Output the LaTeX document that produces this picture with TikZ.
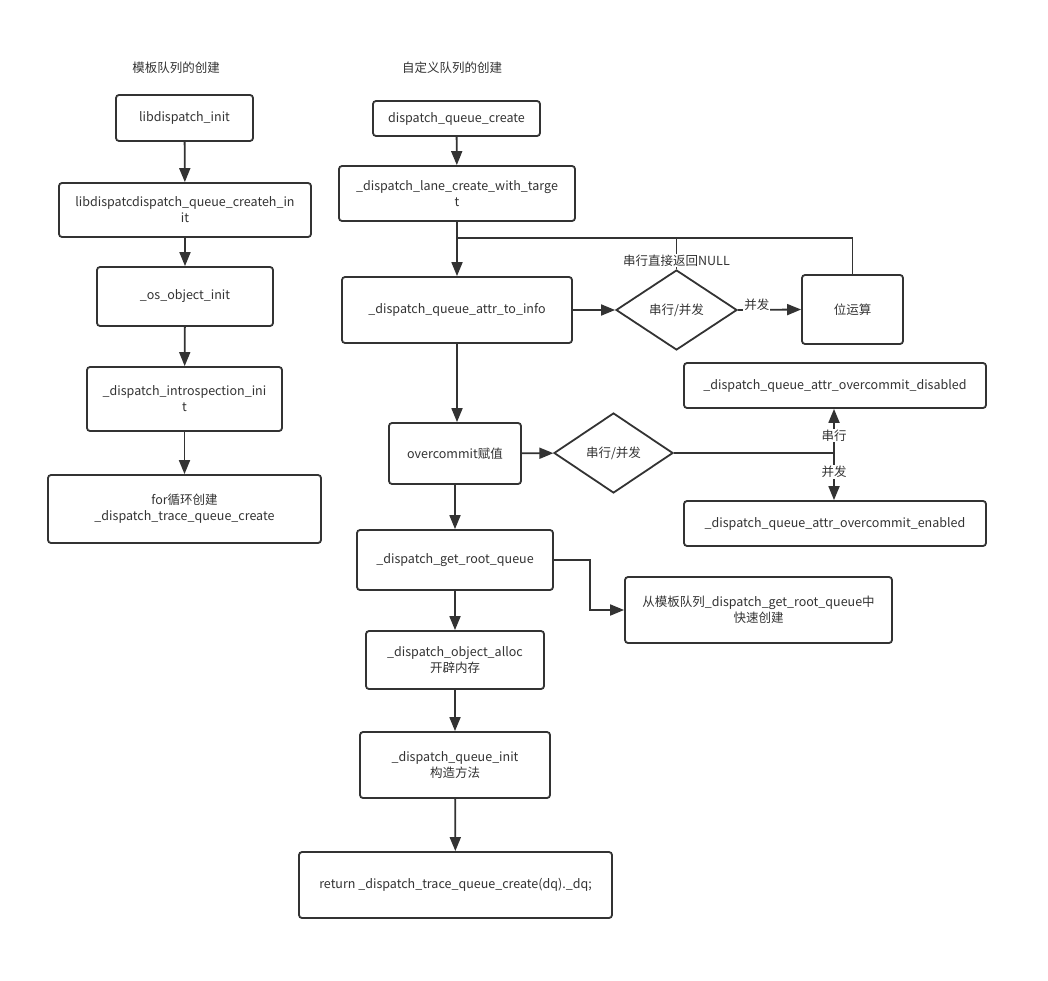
\documentclass[tikz,border=0pt]{standalone}
\usepackage{fontspec}
\setmainfont{Noto Sans CJK SC}
\usetikzlibrary{arrows.meta,shapes.geometric,calc}
\definecolor{ln}{HTML}{333333}
\tikzset{
  box/.style={draw=ln,line width=1.8pt,rounded corners=3pt,align=center,inner sep=2pt,font=\fontsize{12.5}{16}\selectfont,text=ln},
  dia/.style={draw=ln,line width=1.8pt,diamond,aspect=1.5,inner sep=0pt,font=\fontsize{12.5}{16}\selectfont,text=ln},
  arr/.style={draw=ln,line width=1.8pt,-{Triangle[length=14pt,width=11pt]}},
  ln/.style={draw=ln,line width=1.8pt},
  lbl/.style={font=\fontsize{12.5}{16}\selectfont,text=ln,fill=white,inner sep=1pt},
  ttl/.style={font=\fontsize{12.5}{16}\selectfont,text=ln},
}
\begin{document}
\begin{tikzpicture}[x=1pt,y=-1pt]
\useasboundingbox[fill=white] (0,0) rectangle (1048,981);
% titles
\node[ttl] (t1) at (176,68) {模板队列的创建};
\node[ttl] (t2) at (452,68) {自定义队列的创建};
% left column
\node[box,minimum width=137,minimum height=46] (l1) at (184.5,118) {libdispatch\_init};
\node[box,minimum width=252,minimum height=54] (l2) at (185,210) {libdispatcdispatch\_queue\_createh\_in\\it};
\node[box,minimum width=176,minimum height=59] (l3) at (185,296.5) {\_os\_object\_init};
\node[box,minimum width=195,minimum height=64] (l4) at (184.5,399) {\_dispatch\_introspection\_ini\\t};
\node[box,minimum width=273,minimum height=68] (l5) at (184.5,509) {for循环创建\\\_dispatch\_trace\_queue\_create};
\foreach \a/\b in {l1/l2,l2/l3,l3/l4,l4/l5} \draw[arr] (\a) -- (\b);
% right column
\node[box,minimum width=167,minimum height=35] (r1) at (456.5,118.5) {dispatch\_queue\_create};
\node[box,minimum width=236,minimum height=55] (r2) at (457,193.5) {\_dispatch\_lane\_create\_with\_targe\\t};
\node[box,minimum width=230,minimum height=66] (r3) at (457,310) {\_dispatch\_queue\_attr\_to\_info};
\node[dia,minimum width=121,minimum height=80] (d1) at (676.5,310) {串行/并发};
\node[box,minimum width=101,minimum height=69] (bit) at (852.5,309.5) {位运算};
\node[box,minimum width=132,minimum height=61] (oc) at (455,453.5) {overcommit赋值};
\node[dia,minimum width=119,minimum height=80] (d2) at (613.5,453) {串行/并发};
\node[box,minimum width=302,minimum height=45] (dis) at (835,385.5) {\_dispatch\_queue\_attr\_overcommit\_disabled};
\node[box,minimum width=302,minimum height=45] (ena) at (835,523.5) {\_dispatch\_queue\_attr\_overcommit\_enabled};
\node[box,minimum width=196,minimum height=60] (gr) at (455,560) {\_dispatch\_get\_root\_queue};
\node[box,minimum width=267,minimum height=66] (fast) at (758.5,610) {从模板队列\_dispatch\_get\_root\_queue中\\快速创建};
\node[box,minimum width=178,minimum height=58] (oa) at (455,660) {\_dispatch\_object\_alloc\\开辟内存};
\node[box,minimum width=190,minimum height=66] (qi) at (455,765) {\_dispatch\_queue\_init\\构造方法};
\node[box,minimum width=313,minimum height=66] (ret) at (455.5,885) {return \_dispatch\_trace\_queue\_create(dq).\_dq;};
\coordinate (j1) at (457,238);
\coordinate (j2) at (676.5,238);
\coordinate (sp) at (834,453);
\coordinate (e1) at (590,560);
% connectors
\draw[arr] (r1) -- (r2);
\draw[arr] (r2.south) -- (r3.north);
\draw[ln] (bit.north) |- (j1);
\draw[ln] (d1.north) -- node[lbl,pos=0.28] {串行直接返回NULL} (j2);
\draw[arr] (r3) -- (d1);
\draw[arr] (d1.east) -- node[lbl,above=-3pt,pos=0.3] {并发} (bit.west);
\draw[arr] (r3.south) -- (r3.south |- oc.north);
\draw[arr] (oc) -- (d2);
\draw[ln] (d2.east) -- (sp);
\draw[arr] (sp) -- node[lbl,pos=0.4] {串行} (sp |- dis.south);
\draw[arr] (sp) -- node[lbl,pos=0.4] {并发} (sp |- ena.north);
\draw[arr] (oc) -- (gr);
\draw[arr] (gr.east) -- (e1) |- (fast.west);
\draw[arr] (gr) -- (oa);
\draw[arr] (oa) -- (qi);
\draw[arr] (qi) -- (ret);
\end{tikzpicture}
\end{document}
